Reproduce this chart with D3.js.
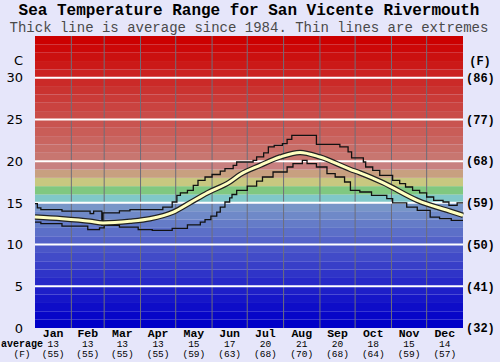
<!DOCTYPE html>
<html>
<head>
<meta charset="utf-8">
<script src="https://cdn.jsdelivr.net/npm/d3@7"></script>
<style>
  body { margin: 0; background: #e6e6fa; }
  svg { display: block; }
</style>
</head>
<body>
<div id="chart"></div>
<script>
// month info
const months = ["Jan", "Feb", "Mar", "Apr", "May", "Jun", "Jul", "Aug", "Sep", "Oct", "Nov", "Dec"];
const monthStart = [0, 31, 59, 90, 120, 151, 181, 212, 243, 273, 304, 334, 365];
const avgC = [13, 13, 13, 13, 15, 17, 20, 21, 20, 18, 15, 14];
const avgF = [55, 55, 55, 55, 59, 63, 68, 70, 68, 64, 59, 57];

// axis ticks
const ticksC = [0, 5, 10, 15, 20, 25, 30];
const ticksF = [32, 41, 50, 59, 68, 77, 86];

// average line (day of year, deg C)
const avgDays = [0, 23, 47, 58, 81, 98, 118, 132, 147, 166, 175, 192, 209, 226, 243, 269, 277, 297, 326, 354, 365];
const avgVals = [13.3, 13.1, 12.8, 12.6, 12.8, 13.1, 13.9, 15.0, 16.2, 17.5, 18.4, 19.5, 20.5, 21.05, 20.5, 19.0, 18.6, 17.4, 15.3, 14.0, 13.5];

// highest recorded (step line)
const maxDays = [0, 2, 5, 23, 47, 50, 57, 58, 72, 81, 109, 117, 121, 124, 130, 135, 139, 145, 151, 158, 162, 169, 172, 186, 189, 195, 199, 204, 211, 215, 219, 240, 260, 267, 270, 280, 282, 288, 294, 305, 311, 316, 322, 328, 334, 340, 348, 353, 360, 365];
const maxVals = [14.9, 14.4, 14.2, 14.0, 13.7, 14.0, 12.3, 13.8, 14.05, 14.2, 14.5, 15.1, 15.9, 16.2, 16.5, 17.1, 17.7, 18.1, 18.4, 18.8, 19.1, 19.5, 19.9, 20.1, 20.5, 21.0, 21.7, 21.9, 22.1, 22.6, 23.1, 22.0, 21.7, 21.1, 20.4, 19.9, 19.3, 18.9, 18.3, 17.7, 17.3, 16.9, 16.5, 16.2, 15.7, 15.3, 15.1, 14.7, 15.0, 15.0];

// lowest recorded (step line)
const minDays = [0, 5, 23, 45, 55, 59, 72, 88, 100, 117, 130, 141, 145, 150, 155, 158, 162, 166, 168, 172, 181, 189, 194, 203, 215, 220, 228, 232, 240, 249, 256, 264, 269, 277, 287, 300, 305, 317, 326, 337, 345, 355, 365];
const minVals = [12.7, 12.5, 12.2, 11.8, 12.0, 12.3, 12.1, 11.8, 11.7, 11.95, 12.35, 12.7, 13.0, 13.4, 13.9, 14.5, 15.1, 15.6, 16.0, 16.5, 17.0, 17.6, 18.1, 18.7, 19.3, 19.7, 20.1, 19.7, 19.3, 18.5, 18.1, 17.5, 16.5, 16.3, 15.9, 15.5, 15.0, 14.5, 14.1, 13.3, 13.1, 12.9, 12.9];

const W = 500, H = 362;
const margin = { left: 35, right: 37, top: 36, bottom: 34 };

const svg = d3.select("#chart").append("svg")
  .attr("width", W).attr("height", H);

svg.append("rect").attr("width", W).attr("height", H).attr("fill", "#e6e6fa");

const x = d3.scaleLinear().domain([0, 365]).range([margin.left, W - margin.right]);
const y = d3.scaleLinear().domain([0, 35]).range([H - margin.bottom, margin.top]);

// colour for each 1 degree band
function bandColor(i) {
  const fixed = { 15: "#80c8c8", 16: "#80c880", 17: "#c8c880", 18: "#c8a080", 19: "#c88080" };
  if (fixed[i]) return fixed[i];
  if (i < 15) {
    const t = i / 14;
    return d3.rgb(Math.round(120 * Math.pow(t, 1.1)), Math.round(150 * Math.pow(t, 1.25)), 200);
  }
  const t = (i - 20) / 14;
  return d3.rgb(200 + 4 * t, Math.round(118 * (1 - t)), Math.round(112 * (1 - t)));
}

svg.append("g").selectAll("rect")
  .data(d3.range(0, 35))
  .join("rect")
  .attr("x", x(0))
  .attr("width", x(365) - x(0))
  .attr("y", d => y(d + 1))
  .attr("height", d => y(d) - y(d + 1))
  .attr("fill", d => bandColor(d));

// vertical month lines
svg.append("g").selectAll("line")
  .data(monthStart.slice(1, 12))
  .join("line")
  .attr("x1", d => x(d)).attr("x2", d => x(d))
  .attr("y1", y(35)).attr("y2", y(0))
  .attr("stroke", "#6e6e7a").attr("stroke-width", 1);

// white horizontal grid
svg.append("g").selectAll("line")
  .data(ticksC.slice(1))
  .join("line")
  .attr("x1", x(0)).attr("x2", x(365))
  .attr("y1", d => y(d)).attr("y2", d => y(d))
  .attr("stroke", "#ffffff").attr("stroke-width", 2);

const pts = (days, vals) => days.map((d, i) => [d, vals[i]]);

const stepLine = d3.line().x(d => x(d[0])).y(d => y(d[1])).curve(d3.curveStepAfter);
const smoothLine = d3.line().x(d => x(d[0])).y(d => y(d[1])).curve(d3.curveMonotoneX);

svg.append("path").datum(pts(maxDays, maxVals))
  .attr("d", stepLine).attr("fill", "none")
  .attr("stroke", "#111").attr("stroke-width", 1.3);

svg.append("path").datum(pts(minDays, minVals))
  .attr("d", stepLine).attr("fill", "none")
  .attr("stroke", "#111").attr("stroke-width", 1.3);

svg.append("path").datum(pts(avgDays, avgVals))
  .attr("d", smoothLine).attr("fill", "none")
  .attr("stroke", "#222").attr("stroke-width", 5.5);
svg.append("path").datum(pts(avgDays, avgVals))
  .attr("d", smoothLine).attr("fill", "none")
  .attr("stroke", "#ffffc0").attr("stroke-width", 3);

// title
svg.append("text").attr("x", 249).attr("y", 14.5)
  .attr("text-anchor", "middle")
  .style("font-family", "'Liberation Mono', monospace")
  .style("font-weight", "bold").style("font-size", "16px")
  .text("Sea Temperature Range for San Vicente Rivermouth");

svg.append("text").attr("x", 249).attr("y", 31.5)
  .attr("text-anchor", "middle")
  .style("font-family", "'Liberation Mono', monospace")
  .style("font-size", "14px").attr("fill", "#4a4a4a")
  .text("Thick line is average since 1984. Thin lines are extremes");

// left axis labels
const left = svg.append("g")
  .style("font-family", "'DejaVu Sans', sans-serif")
  .style("font-size", "13px");
left.selectAll("text.tick")
  .data(ticksC)
  .join("text")
  .attr("class", "tick")
  .attr("x", 23).attr("y", d => y(d))
  .attr("dy", "0.36em")
  .attr("text-anchor", "end")
  .text(d => d);
left.append("text").attr("x", 23).attr("y", 65)
  .attr("text-anchor", "end").text("C");

// right axis labels
const right = svg.append("g")
  .style("font-family", "'Liberation Mono', monospace")
  .style("font-weight", "bold")
  .style("font-size", "12px");
right.selectAll("text.tick")
  .data(ticksF)
  .join("text")
  .attr("class", "tick")
  .attr("x", 466).attr("y", (d, i) => y(ticksC[i]))
  .attr("dy", "0.36em")
  .text(d => "(" + d + ")");
right.append("text").attr("x", 480).attr("y", 65)
  .attr("text-anchor", "middle").text("(F)");

// bottom month labels
const bottom = svg.append("g")
  .style("font-family", "'Liberation Mono', monospace")
  .attr("text-anchor", "middle");
const mids = months.map((m, i) => (monthStart[i] + monthStart[i + 1]) / 2);
bottom.selectAll("text.month")
  .data(months)
  .join("text")
  .attr("class", "month")
  .attr("x", (d, i) => x(mids[i])).attr("y", 337)
  .style("font-weight", "bold").style("font-size", "11.5px")
  .text(d => d);
bottom.selectAll("text.avgc")
  .data(avgC)
  .join("text")
  .attr("class", "avgc")
  .attr("x", (d, i) => x(mids[i])).attr("y", 347)
  .style("font-size", "9.5px")
  .text(d => d);
bottom.selectAll("text.avgf")
  .data(avgF)
  .join("text")
  .attr("class", "avgf")
  .attr("x", (d, i) => x(mids[i])).attr("y", 356.5)
  .style("font-size", "9.5px")
  .text(d => "(" + d + ")");
bottom.append("text").attr("x", 22).attr("y", 347)
  .style("font-weight", "bold").style("font-size", "10px")
  .text("average");
bottom.append("text").attr("x", 22).attr("y", 356.5)
  .style("font-size", "9.5px")
  .text("(F)");
</script>
</body>
</html>
